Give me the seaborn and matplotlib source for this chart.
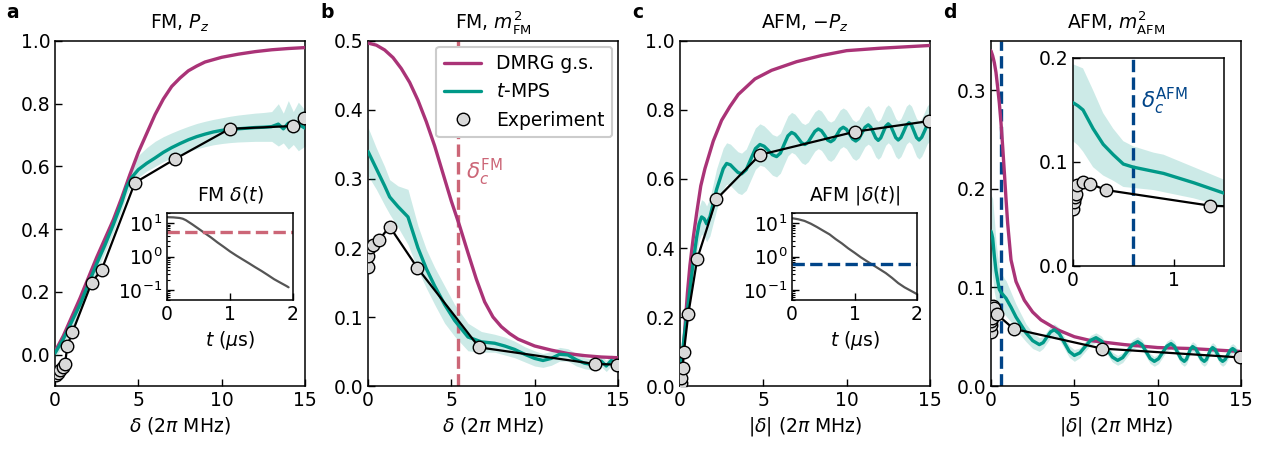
import numpy as np
import matplotlib
matplotlib.use('Agg')
import matplotlib.pyplot as plt
from matplotlib.lines import Line2D
from matplotlib.ticker import NullFormatter
import seaborn as sns

# Colours (Tol palette, as in the paper figure)
PURPLE = '#aa3377'
TEAL = '#009988'
EXP_FACE = '#d9d9d9'
FM_RED = '#cc6677'
AFM_BLUE = '#004488'
GRAY = '#555555'

# ---- panel a: FM, P_z ----
a_dmrg_x = [0, 0.5, 1, 1.5, 2, 2.5, 3, 3.5, 4, 4.5, 5, 5.5, 6, 6.5, 7, 7.5, 8, 8.5, 9, 10, 11, 12, 13, 14, 15]
a_dmrg_y = [0.01, 0.06, 0.12, 0.18, 0.245, 0.31, 0.37, 0.43, 0.5, 0.575, 0.645, 0.705, 0.765, 0.815, 0.855,
            0.882, 0.905, 0.92, 0.933, 0.948, 0.958, 0.966, 0.972, 0.976, 0.979]
a_tmps_x = [0, 0.5, 1, 1.5, 2, 2.5, 3, 3.5, 4, 4.3, 4.6, 5, 5.5, 6, 6.5, 7, 7.5, 8, 8.5, 9, 9.5, 10, 10.5,
            11, 11.5, 12, 12.5, 13, 13.4, 13.7, 14, 14.3, 14.6, 15]
a_tmps_y = [0.005, 0.05, 0.105, 0.16, 0.225, 0.29, 0.35, 0.415, 0.485, 0.535, 0.565, 0.59, 0.61, 0.627, 0.645,
            0.66, 0.673, 0.685, 0.695, 0.703, 0.71, 0.715, 0.718, 0.72, 0.722, 0.724, 0.725, 0.727, 0.735,
            0.72, 0.738, 0.718, 0.735, 0.722]
a_tmps_hi = [0.02, 0.07, 0.13, 0.185, 0.25, 0.315, 0.375, 0.44, 0.51, 0.565, 0.6, 0.635, 0.66, 0.68, 0.695,
             0.707, 0.718, 0.728, 0.737, 0.744, 0.75, 0.755, 0.76, 0.764, 0.767, 0.77, 0.772, 0.775, 0.8,
             0.77, 0.81, 0.775, 0.805, 0.78]
a_tmps_lo = [-0.01, 0.03, 0.08, 0.135, 0.2, 0.265, 0.325, 0.39, 0.46, 0.51, 0.54, 0.565, 0.585, 0.6, 0.615,
             0.627, 0.638, 0.648, 0.656, 0.663, 0.669, 0.673, 0.676, 0.678, 0.679, 0.68, 0.68, 0.68, 0.665,
             0.675, 0.655, 0.67, 0.65, 0.665]
a_exp_x = [0.05, 0.15, 0.3, 0.45, 0.6, 0.74, 1.04, 2.2, 2.8, 4.79, 7.21, 10.48, 14.29, 14.93]
a_exp_y = [-0.066, -0.06, -0.05, -0.04, -0.03, 0.029, 0.071, 0.23, 0.271, 0.548, 0.624, 0.72, 0.729, 0.753]

# inset a: FM sweep delta(t)
fm_t = [0, 0.1, 0.2, 0.25, 0.3, 0.4, 0.5, 0.6, 0.7, 0.8, 0.9, 1.0, 1.1, 1.2, 1.3, 1.4, 1.5, 1.6, 1.7, 1.8, 1.9, 1.93]
fm_delta = [15, 14.8, 14.2, 13.5, 12.2, 9.2, 6.8, 5.0, 3.7, 2.65, 1.95, 1.42, 1.07, 0.82, 0.63, 0.48, 0.37,
            0.28, 0.21, 0.165, 0.13, 0.12]
fm_delta_c = 5.4

# ---- panel b: FM, m^2_FM ----
b_dmrg_x = [0, 0.5, 1, 1.5, 2, 2.5, 3, 3.5, 4, 4.5, 5, 5.5, 6, 6.5, 7, 7.5, 8, 8.5, 9, 10, 11, 12, 13, 14, 15]
b_dmrg_y = [0.497, 0.494, 0.487, 0.476, 0.46, 0.44, 0.414, 0.383, 0.348, 0.308, 0.268, 0.232, 0.193, 0.155,
            0.122, 0.1, 0.086, 0.076, 0.068, 0.058, 0.052, 0.047, 0.044, 0.042, 0.041]
b_tmps_x = [0, 0.5, 1, 1.3, 1.8, 2.4, 3.0, 3.5, 4.0, 4.6, 5.2, 6.0, 6.8, 7.6, 8.2, 8.8, 9.4, 10.0, 10.5, 11.0,
            11.5, 12.0, 12.5, 13.0, 13.5, 14.0, 14.3, 14.6, 15.0]
b_tmps_y = [0.34, 0.315, 0.29, 0.274, 0.26, 0.245, 0.2, 0.17, 0.145, 0.118, 0.095, 0.071, 0.064, 0.062, 0.058,
            0.053, 0.046, 0.04, 0.037, 0.04, 0.046, 0.045, 0.038, 0.033, 0.031, 0.036, 0.029, 0.037, 0.032]
b_tmps_err = [0.035, 0.03, 0.028, 0.025, 0.03, 0.04, 0.032, 0.028, 0.027, 0.027, 0.023, 0.02, 0.015, 0.013,
              0.013, 0.012, 0.011, 0.011, 0.01, 0.01, 0.01, 0.009, 0.009, 0.008, 0.008, 0.008, 0.008, 0.008, 0.008]
b_exp_x = [0.0, 0.02, 0.1, 0.3, 0.64, 1.3, 2.97, 6.67, 13.6, 14.95]
b_exp_y = [0.173, 0.188, 0.202, 0.204, 0.211, 0.231, 0.171, 0.056, 0.032, 0.031]

# ---- panel c: AFM, -P_z ----
c_dmrg_x = [0, 0.15, 0.3, 0.45, 0.6, 0.8, 1.0, 1.25, 1.5, 2.0, 2.5, 3.0, 3.5, 4.5, 5.5, 7.0, 8.5, 10, 12, 15]
c_dmrg_y = [0.0, 0.07, 0.17, 0.27, 0.35, 0.43, 0.5, 0.58, 0.63, 0.71, 0.77, 0.81, 0.845, 0.89, 0.915, 0.94,
            0.958, 0.972, 0.979, 0.987]
c_tmps_x = [0, 0.2, 0.4, 0.6, 0.8, 1.0, 1.15, 1.3, 1.45, 1.6, 1.8, 2.0, 2.2, 2.4, 2.6, 2.8,
            3.03, 3.25, 3.48, 3.7, 3.98, 4.25, 4.53, 4.8,
            5.05, 5.3, 5.55, 5.8, 6.03, 6.25, 6.48, 6.7, 6.9, 7.1, 7.3, 7.5, 7.7, 7.9, 8.1, 8.3,
            8.49, 8.68, 8.86, 9.05, 9.24, 9.43, 9.61, 9.8, 9.99, 10.18, 10.36, 10.55, 10.74, 10.93, 11.11, 11.3,
            11.45, 11.6, 11.75, 11.9, 12.05, 12.2, 12.35, 12.5, 12.65, 12.8, 12.95, 13.1, 13.26, 13.43, 13.59,
            13.75, 13.9, 14.05, 14.2, 14.35, 14.51, 14.68, 14.84, 15.0]
c_tmps_y = [0.02, 0.12, 0.2, 0.28, 0.36, 0.43, 0.47, 0.49, 0.485, 0.47, 0.49, 0.53, 0.57, 0.6, 0.63, 0.645,
            0.641, 0.63, 0.619, 0.615, 0.627, 0.657, 0.688, 0.70,
            0.695, 0.683, 0.670, 0.665, 0.675, 0.70, 0.725, 0.735, 0.73, 0.718, 0.705, 0.70, 0.707, 0.723,
            0.738, 0.745, 0.74, 0.727, 0.713, 0.708, 0.714, 0.729, 0.744, 0.75, 0.744, 0.73, 0.716, 0.71,
            0.717, 0.734, 0.75, 0.757, 0.75, 0.735, 0.719, 0.712, 0.719, 0.736, 0.753, 0.76, 0.753, 0.737,
            0.72, 0.713, 0.72, 0.738, 0.756, 0.763, 0.756, 0.738, 0.72, 0.713, 0.721, 0.739, 0.757, 0.765]
c_tmps_err = [0.01, 0.02, 0.03, 0.035, 0.04, 0.045, 0.048, 0.05, 0.05, 0.052, 0.055, 0.057, 0.06, 0.06, 0.06,
              0.06, 0.06, 0.06, 0.06, 0.06, 0.06, 0.06, 0.06, 0.06,
              0.059, 0.059, 0.059, 0.059, 0.058, 0.058, 0.058, 0.058, 0.058, 0.058, 0.058, 0.058, 0.057, 0.057,
              0.057, 0.057, 0.057, 0.057, 0.057, 0.057, 0.056, 0.056, 0.056, 0.056, 0.056, 0.056, 0.056, 0.056,
              0.056, 0.056, 0.056, 0.056, 0.055, 0.055, 0.055, 0.055, 0.055, 0.055, 0.055, 0.055, 0.055, 0.055,
              0.055, 0.055, 0.055, 0.055, 0.055, 0.055, 0.055, 0.055, 0.055, 0.055, 0.055, 0.055, 0.055, 0.055]
c_exp_x = [0.02, 0.04, 0.08, 0.16, 0.24, 0.5, 1.04, 2.18, 4.8, 10.5, 14.96]
c_exp_y = [0.005, 0.01, 0.024, 0.053, 0.099, 0.208, 0.369, 0.541, 0.67, 0.737, 0.768]

# inset c: AFM sweep |delta(t)|
afm_t = [0, 0.1, 0.2, 0.3, 0.4, 0.5, 0.6, 0.7, 0.8, 0.9, 1.0, 1.1, 1.2, 1.3, 1.4, 1.5, 1.6, 1.7, 1.8, 1.9, 2.0]
afm_delta = [14, 13, 11.6, 9.6, 7.6, 5.9, 4.6, 3.3, 2.45, 1.75, 1.3, 0.95, 0.72, 0.55, 0.42, 0.32, 0.23,
             0.16, 0.12, 0.095, 0.075]
afm_delta_c = 0.6

# ---- panel d: AFM, m^2_AFM ----
d_dmrg_x = [0, 0.1, 0.2, 0.3, 0.4, 0.5, 0.6, 0.7, 0.8, 0.9, 1.0, 1.2, 1.5, 2.0, 2.5, 3.0, 4.0, 5.0, 6.0, 8.0,
            10, 12, 15]
d_dmrg_y = [0.34, 0.335, 0.328, 0.318, 0.303, 0.287, 0.267, 0.243, 0.217, 0.19, 0.165, 0.128, 0.106, 0.087,
            0.075, 0.067, 0.057, 0.05, 0.046, 0.042, 0.039, 0.038, 0.035]
d_tmps_x = [0, 0.05, 0.1, 0.2, 0.3, 0.4, 0.5, 0.6, 0.7, 0.8, 0.9, 1.0, 1.2, 1.5, 1.8, 2.1, 2.5, 2.9,
            3.13, 3.35, 3.58, 3.8, 4.1, 4.4, 4.7, 5.0, 5.33, 5.65, 5.98, 6.3, 6.63, 6.95, 7.28, 7.6,
            7.9, 8.2, 8.5, 8.8, 9.05, 9.3, 9.55, 9.8, 10.05, 10.3, 10.55, 10.8, 11.0, 11.2, 11.4, 11.6,
            11.73, 11.85, 11.98, 12.1, 12.28, 12.45, 12.63, 12.8, 12.93, 13.05, 13.18, 13.3, 13.45, 13.6,
            13.75, 13.9, 14.05, 14.2, 14.35, 14.5, 14.63, 14.75, 14.88, 15.0]
d_tmps_y = [0.157, 0.154, 0.15, 0.132, 0.117, 0.107, 0.098, 0.095, 0.093, 0.091, 0.089, 0.086, 0.08, 0.07,
            0.062, 0.054, 0.046, 0.042,
            0.044, 0.0495, 0.055, 0.057, 0.053, 0.044, 0.035, 0.031, 0.0336, 0.04, 0.0464, 0.049, 0.0456,
            0.0375, 0.0294, 0.026, 0.0288, 0.0355, 0.0422, 0.045, 0.0421, 0.035, 0.0279, 0.025, 0.0276,
            0.034, 0.0404, 0.043, 0.0404, 0.034, 0.0276, 0.025, 0.0272, 0.0325, 0.0378, 0.04, 0.0378,
            0.0325, 0.0272, 0.025, 0.027, 0.032, 0.037, 0.039, 0.037, 0.032, 0.027, 0.025, 0.0269, 0.0315,
            0.0361, 0.038, 0.0365, 0.0335, 0.031, 0.029]
d_tmps_err = [0.037, 0.038, 0.04, 0.037, 0.03, 0.025, 0.022, 0.02, 0.019, 0.018, 0.018, 0.017, 0.015, 0.013,
              0.011, 0.009, 0.008, 0.007,
              0.006, 0.006, 0.006, 0.006, 0.006, 0.006, 0.006, 0.006, 0.005, 0.005, 0.005, 0.005, 0.005,
              0.005, 0.005, 0.005, 0.005, 0.005, 0.005, 0.005, 0.005, 0.005, 0.005, 0.005, 0.005, 0.005,
              0.005, 0.005, 0.005, 0.005, 0.005, 0.005, 0.005, 0.005, 0.005, 0.005, 0.005, 0.005, 0.005,
              0.005, 0.005, 0.005, 0.005, 0.005, 0.005, 0.005, 0.005, 0.005, 0.005, 0.005, 0.005, 0.005,
              0.005, 0.005, 0.005, 0.005]
d_exp_x = [0.0, 0.01, 0.02, 0.03, 0.04, 0.1, 0.17, 0.33, 1.36, 6.65, 14.93]
d_exp_y = [0.055, 0.062, 0.066, 0.069, 0.078, 0.081, 0.079, 0.073, 0.058, 0.038, 0.029]

# Style
sns.set_style('ticks', {'xtick.direction': 'in', 'ytick.direction': 'in', 'axes.edgecolor': 'black'})
plt.rcParams['font.size'] = 13
plt.rcParams['text.color'] = 'black'
plt.rcParams['axes.labelcolor'] = 'black'
plt.rcParams['xtick.color'] = 'black'
plt.rcParams['ytick.color'] = 'black'
plt.rcParams['axes.linewidth'] = 1.1
plt.rcParams['xtick.major.size'] = 5
plt.rcParams['ytick.major.size'] = 5
plt.rcParams['ytick.minor.size'] = 2.5
FS = 13.5


def draw_band(ax, x, lo, hi):
    ax.fill_between(x, lo, hi, color=TEAL, alpha=0.2, lw=0, zorder=1)


def draw_line(ax, x, y, color, lw=2.4, z=3):
    sns.lineplot(x=x, y=y, ax=ax, color=color, lw=lw, sort=False, estimator=None, zorder=z)


def draw_exp(ax, x, y):
    sns.lineplot(x=x, y=y, ax=ax, color='black', lw=1.6, sort=False, estimator=None,
                 marker='o', markersize=9, markerfacecolor=EXP_FACE, markeredgecolor='black',
                 markeredgewidth=1.0, zorder=5)


def style_main(ax, title, xlabel, ylim, yticks):
    ax.set_xlim(0, 15)
    ax.set_ylim(*ylim)
    ax.set_xticks([0, 5, 10, 15])
    ax.set_yticks(yticks)
    ax.set_title(title, fontsize=FS, pad=9)
    ax.set_xlabel(xlabel, fontsize=FS)
    ax.set_ylabel('')
    ax.tick_params(labelsize=FS, width=1)


fig = plt.figure(figsize=(12.65, 4.49), dpi=100)
lefts = [0.0435, 0.2909, 0.5375, 0.7834]
axes = [fig.add_axes([l, 0.1403, 0.1976, 0.7684]) for l in lefts]
ax_a, ax_b, ax_c, ax_d = axes

# a
draw_band(ax_a, a_tmps_x, a_tmps_lo, a_tmps_hi)
draw_line(ax_a, a_dmrg_x, a_dmrg_y, PURPLE)
draw_line(ax_a, a_tmps_x, a_tmps_y, TEAL, z=4)
draw_exp(ax_a, a_exp_x, a_exp_y)
style_main(ax_a, 'FM, $P_z$', r'$\delta$ (2$\pi$ MHz)', (-0.1, 1.0), [0, 0.2, 0.4, 0.6, 0.8, 1.0])

# b
by = np.array(b_tmps_y)
be = np.array(b_tmps_err)
draw_band(ax_b, b_tmps_x, by - be, by + be)
draw_line(ax_b, b_dmrg_x, b_dmrg_y, PURPLE)
draw_line(ax_b, b_tmps_x, b_tmps_y, TEAL, z=4)
draw_exp(ax_b, b_exp_x, b_exp_y)
ax_b.axvline(fm_delta_c, color=FM_RED, ls='--', lw=2.4, zorder=2)
ax_b.text(5.9, 0.31, r'$\delta_c^{\mathrm{FM}}$', color=FM_RED, fontsize=15.5, va='center', ha='left')
style_main(ax_b, r'FM, $m^2_{\mathrm{FM}}$', r'$\delta$ (2$\pi$ MHz)', (0, 0.5), [0, 0.1, 0.2, 0.3, 0.4, 0.5])
handles = [Line2D([], [], color=PURPLE, lw=2.4, label='DMRG g.s.'),
           Line2D([], [], color=TEAL, lw=2.4, label='$t$-MPS'),
           Line2D([], [], ls='none', marker='o', ms=9, mfc=EXP_FACE, mec='black', label='Experiment')]
leg = ax_b.legend(handles=handles, loc='upper right', fontsize=FS, frameon=True, framealpha=1,
                  borderaxespad=0.3, handlelength=2.0)
leg.get_frame().set_edgecolor('#cccccc')
leg.get_frame().set_linewidth(1.5)

# c
cy = np.array(c_tmps_y)
ce = np.array(c_tmps_err)
draw_band(ax_c, c_tmps_x, cy - ce, cy + ce)
draw_line(ax_c, c_dmrg_x, c_dmrg_y, PURPLE)
draw_line(ax_c, c_tmps_x, c_tmps_y, TEAL, z=4)
draw_exp(ax_c, c_exp_x, c_exp_y)
style_main(ax_c, 'AFM, $-P_z$', r'$|\delta|$ (2$\pi$ MHz)', (0, 1.0), [0, 0.2, 0.4, 0.6, 0.8, 1.0])

# d
dy = np.array(d_tmps_y)
de = np.array(d_tmps_err)
draw_band(ax_d, d_tmps_x, dy - de, dy + de)
draw_line(ax_d, d_dmrg_x, d_dmrg_y, PURPLE)
draw_line(ax_d, d_tmps_x, d_tmps_y, TEAL, z=4)
draw_exp(ax_d, d_exp_x, d_exp_y)
ax_d.axvline(afm_delta_c, color=AFM_BLUE, ls='--', lw=2.4, zorder=2)
style_main(ax_d, r'AFM, $m^2_{\mathrm{AFM}}$', r'$|\delta|$ (2$\pi$ MHz)', (0, 0.35), [0, 0.1, 0.2, 0.3])

# panel letters
for lab, xx in zip('abcd', [0.0103, 0.2585, 0.5043, 0.751]):
    fig.text(xx, 0.973, lab, fontsize=FS, fontweight='bold', ha='center', va='center')

# insets with the sweep profiles
for pos, t, dl, dc, col, ttl in [([0.132, 0.3318, 0.0996, 0.1938], fm_t, fm_delta, fm_delta_c, FM_RED,
                                  r'FM $\delta(t)$'),
                                 ([0.6261, 0.3318, 0.0988, 0.1938], afm_t, afm_delta, afm_delta_c, AFM_BLUE,
                                  r'AFM $|\delta(t)|$')]:
    ins = fig.add_axes(pos)
    ins.set_facecolor('white')
    sns.lineplot(x=t, y=dl, ax=ins, color=GRAY, lw=1.6, sort=False, estimator=None)
    ins.axhline(dc, color=col, ls='--', lw=2.4)
    ins.set_yscale('log')
    ins.set_ylim(0.05, 20)
    ins.set_xlim(0, 2)
    ins.set_xticks([0, 1, 2])
    ins.set_yticks([0.1, 1, 10])
    ins.yaxis.set_minor_formatter(NullFormatter())
    ins.tick_params(labelsize=FS, width=1)
    ins.tick_params(which='minor', direction='in', width=0.8)
    ins.set_title(ttl, fontsize=FS, pad=9)
    ins.set_xlabel(r'$t$ ($\mu$s)', fontsize=FS)
    ins.set_ylabel('')

# inset d: zoom near the critical point
ins_d = fig.add_axes([0.8482, 0.4076, 0.1194, 0.4633])
ins_d.set_facecolor('white')
draw_band(ins_d, d_tmps_x, dy - de, dy + de)
draw_line(ins_d, d_tmps_x, d_tmps_y, TEAL, z=4)
draw_exp(ins_d, d_exp_x, d_exp_y)
ins_d.axvline(afm_delta_c, color=AFM_BLUE, ls='--', lw=2.4, zorder=2)
ins_d.text(0.68, 0.158, r'$\delta_c^{\mathrm{AFM}}$', color=AFM_BLUE, fontsize=15.5, va='center', ha='left')
ins_d.set_xlim(0, 1.5)
ins_d.set_ylim(0, 0.2)
ins_d.set_xticks([0, 1])
ins_d.set_yticks([0, 0.1, 0.2])
ins_d.tick_params(labelsize=FS, width=1)
ins_d.set_xlabel('')
ins_d.set_ylabel('')

fig.savefig('out.png', dpi=100)
